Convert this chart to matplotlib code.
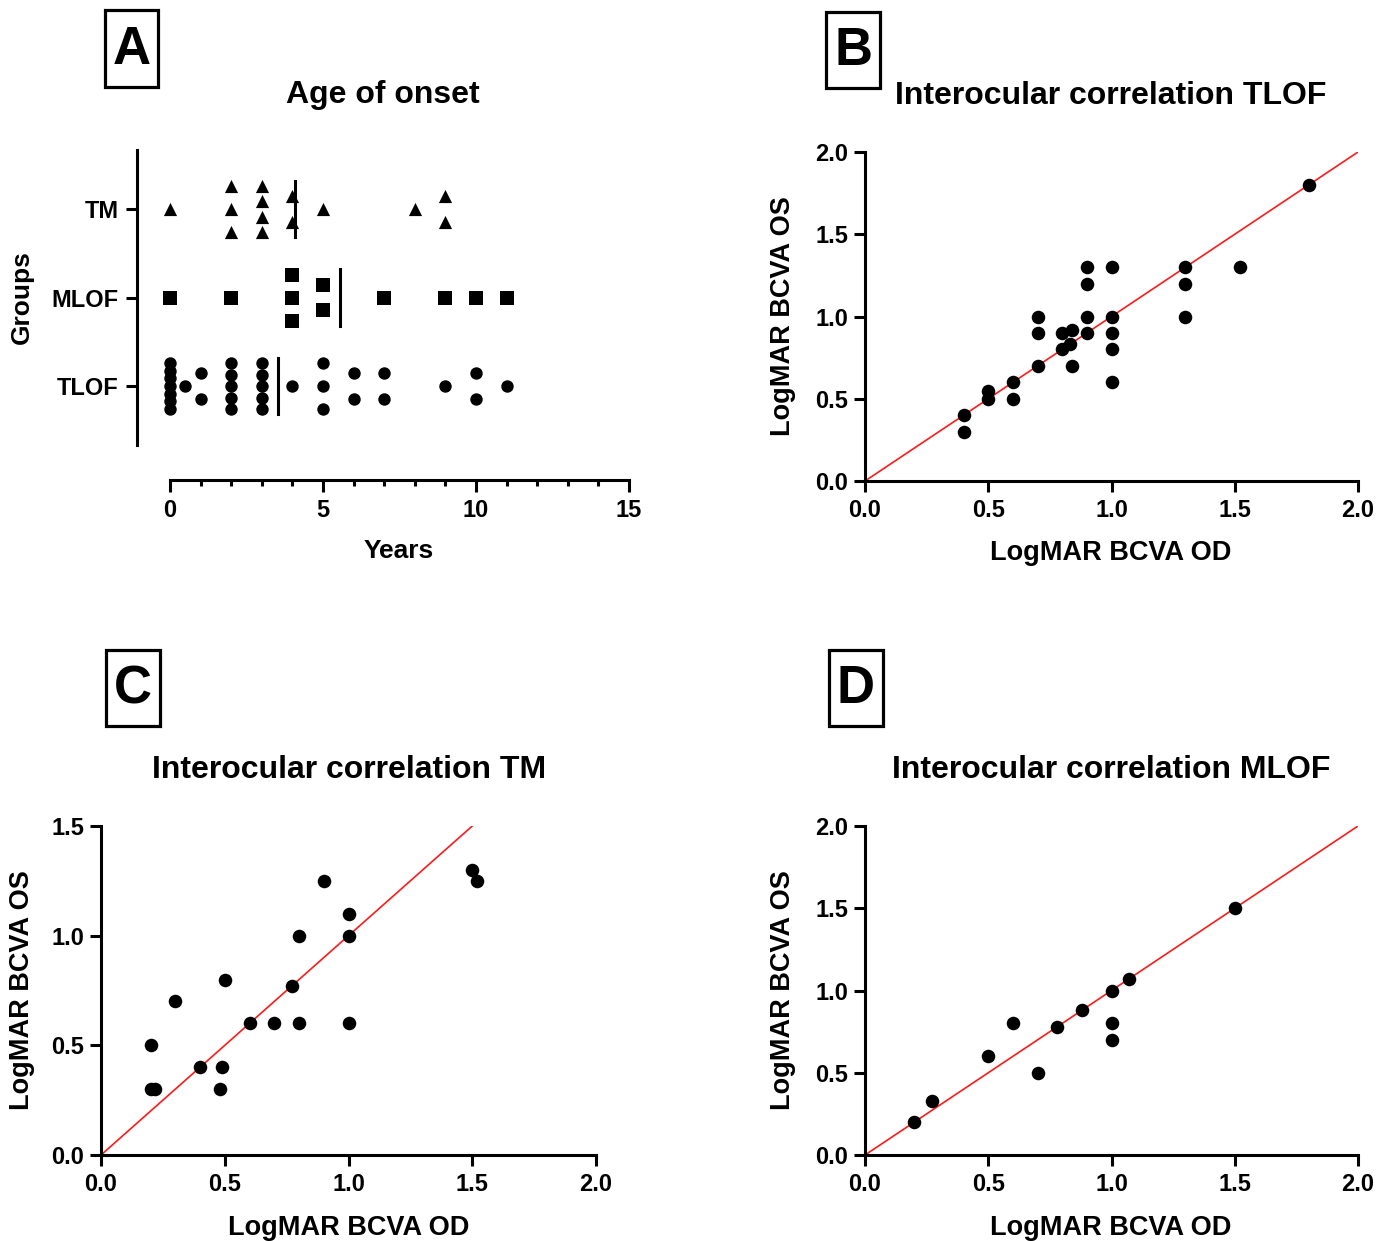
import numpy as np
import matplotlib
matplotlib.use("Agg")
import matplotlib.pyplot as plt
from matplotlib.patches import Rectangle

plt.rcParams['font.family'] = ['Liberation Sans', 'DejaVu Sans']
plt.rcParams['font.weight'] = 'bold'

W, H = 1390, 1241

# --- data: panel A (age of onset, years)
groups = ["TLOF", "MLOF", "TM"]
age_tlof = [0, 0, 0, 0, 0, 0, 0, 0.5, 1, 1, 2, 2, 2, 2, 2, 3, 3, 3, 3, 3,
            4, 5, 5, 5, 6, 6, 7, 7, 9, 10, 10, 11]
age_mlof = [0, 2, 4, 4, 4, 5, 5, 7, 9, 10, 11]
age_tm = [0, 2, 2, 2, 3, 3, 3, 3, 4, 4, 5, 8, 9, 9]

# --- data: panel B (TLOF)
tlof_od = [1.8, 0.9, 1.0, 1.3, 1.52, 0.9, 1.3, 0.7, 0.9, 1.0, 1.3, 0.7, 0.8, 0.84,
           0.9, 1.0, 0.8, 0.83, 1.0, 0.7, 0.84, 1.0, 0.6, 0.5, 0.5, 0.6, 0.4, 0.4]
tlof_os = [1.8, 1.3, 1.3, 1.3, 1.3, 1.2, 1.2, 1.0, 1.0, 1.0, 1.0, 0.9, 0.9, 0.92,
           0.9, 0.9, 0.8, 0.83, 0.8, 0.7, 0.7, 0.6, 0.6, 0.55, 0.5, 0.5, 0.4, 0.3]

# --- data: panel C (TM)
tm_od = [1.5, 1.52, 0.9, 1.0, 1.0, 0.8, 0.5, 0.77, 0.3, 0.6, 0.7, 0.8, 1.0,
         0.2, 0.4, 0.49, 0.48, 0.2, 0.22]
tm_os = [1.3, 1.25, 1.25, 1.1, 1.0, 1.0, 0.8, 0.77, 0.7, 0.6, 0.6, 0.6, 0.6,
         0.5, 0.4, 0.4, 0.3, 0.3, 0.3]

# --- data: panel D (MLOF)
mlof_od = [1.5, 1.07, 1.0, 0.88, 0.78, 0.6, 1.0, 1.0, 0.5, 0.7, 0.27, 0.2]
mlof_os = [1.5, 1.07, 1.0, 0.88, 0.78, 0.8, 0.8, 0.7, 0.6, 0.5, 0.33, 0.2]

fig = plt.figure(figsize=(W / 100, H / 100), dpi=100)


def box(x0, y0, x1, y1):
    return [x0 / W, 1 - y1 / H, (x1 - x0) / W, (y1 - y0) / H]


def ftext(x, y, s, **kw):
    fig.text(x / W, 1 - y / H, s, ha='center', va='center', **kw)


def letter(x0, y0, x1, y1, s):
    fig.patches.append(Rectangle((x0 / W, 1 - y1 / H), (x1 - x0) / W, (y1 - y0) / H,
                                 transform=fig.transFigure, fill=False, lw=2.3, ec='black'))
    ftext((x0 + x1) / 2, (y0 + y1) / 2 + 1, s, fontsize=38, fontweight='bold')


def style(ax):
    for s in ['top', 'right']:
        ax.spines[s].set_visible(False)
    for s in ['left', 'bottom']:
        ax.spines[s].set_linewidth(2.2)
    ax.tick_params(width=2.2, length=8, labelsize=17, direction='out')
    ax.tick_params(axis='x', pad=5)
    ax.tick_params(axis='y', pad=4)


# ---------- Panel A
axA = fig.add_axes(box(137, 150, 629, 480))
style(axA)
ypos = [1, 2, 3]
markers = ['o', 's', '^']
msz = [80, 95, 90]
for ages, y0, m, s in zip([age_tlof, age_mlof, age_tm], ypos, markers, msz):
    ages = np.array(ages, dtype=float)
    xs, ys = [], []
    for v in np.unique(ages):
        n = int((ages == v).sum())
        if n == 1:
            off = [0.0]
        elif n == 2:
            off = [-0.145, 0.145]
        else:
            off = np.linspace(-0.26, 0.26, n)
        for o in off:
            xs.append(v)
            ys.append(y0 + o)
    axA.scatter(xs, ys, marker=m, s=s, color='black', linewidths=0, zorder=3)
    # mean line
    mu = ages.mean()
    axA.plot([mu, mu], [y0 - 0.32, y0 + 0.32], color='black', lw=2.2, zorder=4)

axA.set_xlim(-1.08, 15)
axA.set_ylim(-0.062, 3.667)
axA.spines['left'].set_bounds(0.333, 3.667)
axA.spines['bottom'].set_bounds(0, 15)
axA.set_xticks([0, 5, 10, 15])
axA.set_xticks(range(0, 16), minor=True)
axA.tick_params(axis='x', which='major', length=8.5)
axA.tick_params(axis='x', which='minor', length=4, width=2.2)
axA.set_yticks(ypos)
axA.set_yticklabels(groups)
axA.tick_params(axis='y', pad=5)

ftext(383, 95, "Age of onset", fontsize=23, fontweight='bold')
ftext(399, 551, "Years", fontsize=19, fontweight='bold')
ftext(22, 297, "Groups", fontsize=19, fontweight='bold', rotation=90)
letter(105, 10, 158, 87, "A")


def corr_panel(rect, od, os_, ymax, title, tx, ty, xl_y, yl_x, yl_y, xlab_x):
    ax = fig.add_axes(rect)
    style(ax)
    ax.plot([0, ymax], [0, ymax], color='#ff1a1a', lw=1.2, zorder=2)
    ax.scatter(od, os_, s=95, color='black', linewidths=0, zorder=3, clip_on=False)
    ax.set_xlim(0, 2)
    ax.set_ylim(0, ymax)
    ax.set_xticks([0, 0.5, 1.0, 1.5, 2.0])
    ax.set_xticklabels(["0.0", "0.5", "1.0", "1.5", "2.0"])
    yt = np.arange(0, ymax + 0.01, 0.5)
    ax.set_yticks(yt)
    ax.set_yticklabels(["%.1f" % v for v in yt])
    ftext(tx, ty, title, fontsize=23, fontweight='bold')
    ftext(xlab_x, xl_y, "LogMAR BCVA OD", fontsize=19.5, fontweight='bold')
    ftext(yl_x, yl_y, "LogMAR BCVA OS", fontsize=19.5, fontweight='bold', rotation=90)
    return ax


# ---------- Panel B
corr_panel(box(865, 152, 1358, 481), tlof_od, tlof_os, 2.0,
           "Interocular correlation TLOF", 1111, 96, 553, 783, 316, 1111)
letter(826, 12, 880, 88, "B")

# ---------- Panel C
corr_panel(box(101, 826, 596, 1155), tm_od, tm_os, 1.5,
           "Interocular correlation TM", 349, 770, 1228, 22, 990, 349)
letter(106, 650, 160, 726, "C")

# ---------- Panel D
corr_panel(box(865, 826, 1358, 1155), mlof_od, mlof_os, 2.0,
           "Interocular correlation MLOF", 1111, 770, 1228, 783, 990, 1111)
letter(829, 650, 883, 726, "D")

fig.savefig("out.png", dpi=100)
